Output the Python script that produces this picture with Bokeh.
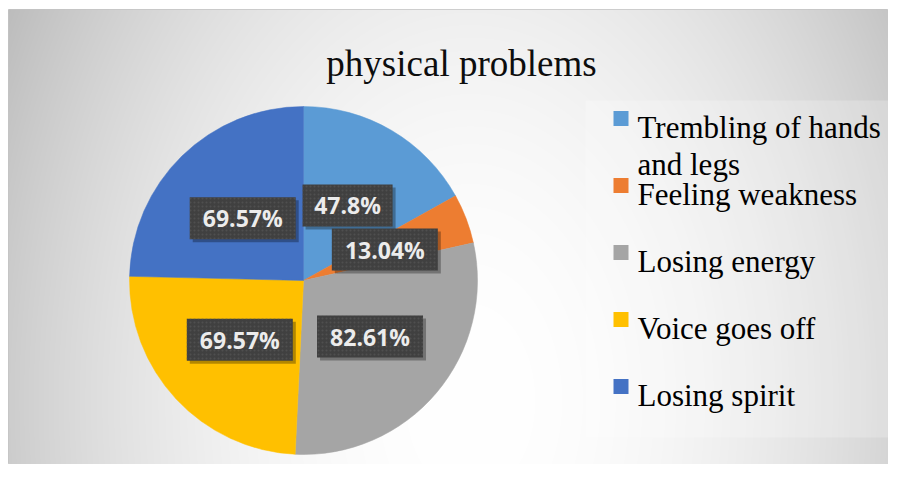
import math
import textwrap
import numpy as np
from bokeh.plotting import figure
from bokeh.models import Range1d, ColumnDataSource
from bokeh.core.properties import value
from bokeh.embed import file_html
from bokeh.resources import INLINE

# ---- data ----
title = "physical problems"
categories = ["Trembling of hands and legs", "Feeling weakness", "Losing energy",
              "Voice goes off", "Losing spirit"]
values = [47.8, 13.04, 82.61, 69.57, 69.57]
labels = ["47.8%", "13.04%", "82.61%", "69.57%", "69.57%"]
colors = ["#5B9BD5", "#ED7D31", "#A5A5A5", "#FFC000", "#4472C4"]

# ---- layout (pixel space, y measured downward then flipped) ----
W, H = 888, 464
L0, T0 = 8, 9           # white strip left / top
FW, FH = W - L0, H - T0  # frame size
def Y(py):
    return 480 - py

p = figure(width=W, height=H, x_range=Range1d(L0, W), y_range=Range1d(Y(H), Y(T0)),
           output_backend="svg", toolbar_location=None,
           min_border_left=L0, min_border_top=T0, min_border_right=0, min_border_bottom=0)
p.axis.visible = False
p.grid.visible = False
p.outline_line_color = "#c4c4c4"
p.background_fill_color = "#e6e6e6"
p.border_fill_color = "white"

# radial gradient background
xs = np.arange(FW) + L0 + 0.5
ys = np.arange(FH) + Y(H) + 0.5
gx, gy = np.meshgrid(xs, ys)
d2 = ((gx - 470) / 470.0) ** 2 + (((480 - gy) - 400) / 700.0) ** 2
v = np.clip(255 - 52 * d2, 185, 255).astype(np.uint8)
img = np.empty((FH, FW), dtype=np.uint32)
view = img.view(dtype=np.uint8).reshape((FH, FW, 4))
view[..., 0] = v
view[..., 1] = v
view[..., 2] = v
view[..., 3] = 255
p.image_rgba(image=[img], x=L0, y=Y(H), dw=FW, dh=FH)

# legend backdrop
p.quad(left=585, right=W, top=Y(100), bottom=Y(437), fill_color="white",
       fill_alpha=0.22, line_color=None)

# ---- pie ----
cx, cy, R = 303, Y(280), 174
total = sum(values)
cum = np.concatenate([[0.0], np.cumsum(values) / total])
starts = [math.pi / 2 - 2 * math.pi * cum[i + 1] for i in range(len(values))]
ends = [math.pi / 2 - 2 * math.pi * cum[i] for i in range(len(values))]
src = ColumnDataSource(dict(start=starts, end=ends, color=colors, name=categories))
p.wedge(x=cx, y=cy, radius=R, start_angle="start", end_angle="end",
        fill_color="color", line_color="color", line_width=0.5, source=src)

# ---- data labels ----
mids = [math.pi / 2 - math.pi * (cum[i] + cum[i + 1]) for i in range(len(values))]
lx = [cx + 0.5 * R * math.cos(a) for a in mids]
ly = [cy + 0.5 * R * math.sin(a) for a in mids]
bw = [16 * len(t) + 10 for t in labels]
lsrc = ColumnDataSource(dict(x=lx, y=ly, sx=[x + 3 for x in lx], sy=[y - 3 for y in ly],
                             w=bw, text=labels))
p.rect(x="sx", y="sy", width="w", height=42, fill_color="black", fill_alpha=0.3,
       line_color=None, source=lsrc)
p.rect(x="x", y="y", width="w", height=42, fill_color="#404040", line_color=None,
       hatch_pattern="dot", hatch_color="#555555", hatch_scale=4, hatch_alpha=0.7,
       source=lsrc)
p.text(x="x", y="y", text="text", text_align="center", text_baseline="middle",
       text_font=value("Open Sans"), text_font_style="bold", text_font_size="23px",
       text_color="#ececec", source=lsrc)

# ---- title ----
p.text(x=[461], y=[Y(63)], text=[title], text_align="center", text_baseline="alphabetic",
       text_font=value("Liberation Serif"), text_font_size="37px", text_color="#0d0d0d")

# ---- legend ----
sq_x, sq_y, tx, ty = [], [], [], []
t_lines = []
for i, name in enumerate(categories):
    cyp = 118 + 67 * i
    sq_x.append(620.5)
    sq_y.append(Y(cyp))
    for j, line in enumerate(textwrap.wrap(name, 18)):
        tx.append(637)
        ty.append(Y(cyp + 9 + 37 * j))
        t_lines.append(line)
p.rect(x=sq_x, y=sq_y, width=15, height=15, fill_color=colors, line_color=None)
p.text(x=tx, y=ty, text=t_lines, text_align="left", text_baseline="alphabetic",
       text_font=value("Liberation Serif"), text_font_size="31px", text_color="#000000")

open("out.html", "w").write(file_html(p, INLINE))
